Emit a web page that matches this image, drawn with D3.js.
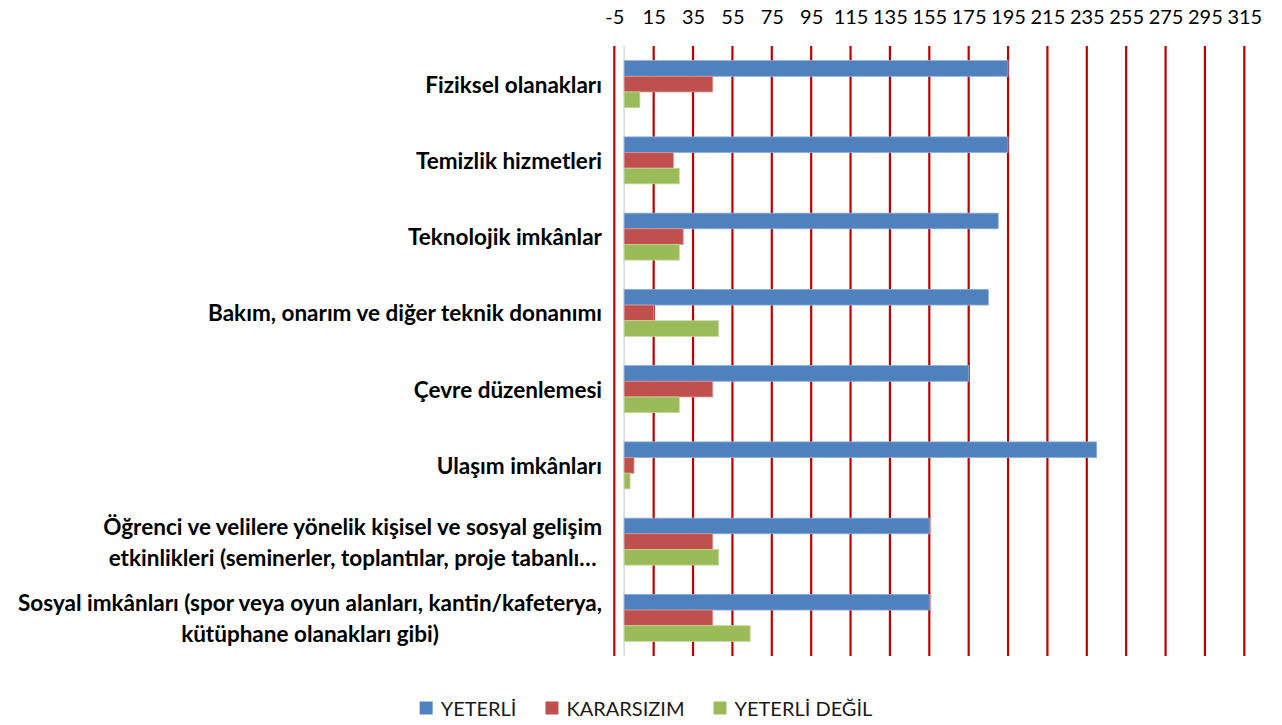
<!DOCTYPE html>
<html><head><meta charset="utf-8">
<script src="https://cdn.jsdelivr.net/npm/d3@7"></script>
<style>body{margin:0;background:#fff}svg{display:block}</style>
</head><body>
<svg id="chart" width="1282" height="725"></svg>
<script>
const categories = [
  "Fiziksel olanakları",
  "Temizlik hizmetleri",
  "Teknolojik imkânlar",
  "Bakım, onarım ve diğer teknik donanımı",
  "Çevre düzenlemesi",
  "Ulaşım imkânları",
  "Öğrenci ve velilere yönelik kişisel ve sosyal gelişim\netkinlikleri (seminerler, toplantılar, proje tabanlı…",
  "Sosyal imkânları (spor veya oyun alanları, kantin/kafeterya,\nkütüphane olanakları gibi)"
];
const seriesNames = ["YETERLİ", "KARARSIZIM", "YETERLİ DEĞİL"];
const yeterli      = [195, 195, 190, 185, 175, 240, 155, 155];
const kararsizim   = [45, 25, 30, 15, 45, 5, 45, 45];
const yeterliDegil = [8, 28, 28, 48, 28, 3, 48, 64];
const tickValues = [-5, 15, 35, 55, 75, 95, 115, 135, 155, 175, 195, 215, 235, 255, 275, 295, 315];
const colors = ["#4F81BD", "#C0504D", "#9BBB59"];
const strokes = ["#8DAEDA", "#D99694", "#C3D69B"];

const seriesValues = [yeterli, kararsizim, yeterliDegil];
const FONT = "Lato, 'Open Sans', sans-serif";

const svg = d3.select("#chart");
const plot = {left: 614.3, right: 1244.3, top: 46, bottom: 656};

const x = d3.scaleLinear().domain([-5, 315]).range([plot.left, plot.right]);
const gapRatio = 0.384;
const y = d3.scaleBand().domain(categories).range([plot.top, plot.bottom])
  .paddingInner(gapRatio).paddingOuter(gapRatio / 2);
const ySub = d3.scaleBand().domain(seriesNames).range([0, y.bandwidth()]);

// gridlines
svg.append("g").selectAll("line").data(tickValues).join("line")
  .attr("x1", d => x(d)).attr("x2", d => x(d))
  .attr("y1", plot.top).attr("y2", plot.bottom)
  .attr("stroke", "#C00000").attr("stroke-width", 2.2);

// category axis line at 0
svg.append("line")
  .attr("x1", x(0)).attr("x2", x(0))
  .attr("y1", plot.top).attr("y2", plot.bottom)
  .attr("stroke", "#D9D9D9").attr("stroke-width", 1.5);

// top axis tick labels
const xAxis = d3.axisTop(x).tickValues(tickValues).tickSize(0).tickPadding(0)
  .tickFormat(d => String(d));
const axG = svg.append("g").attr("transform", "translate(0,24)").call(xAxis);
axG.select(".domain").remove();
axG.selectAll("text").attr("font-family", FONT).attr("font-size", 20)
  .attr("fill", "#000").attr("dy", 0);

// bars
categories.forEach((c, i) => {
  const g = svg.append("g").attr("transform", `translate(0,${y(c)})`);
  seriesNames.forEach((s, k) => {
    const v = seriesValues[k][i];
    g.append("rect")
      .attr("x", x(0))
      .attr("y", ySub(s))
      .attr("width", x(v) - x(0))
      .attr("height", ySub.bandwidth())
      .attr("fill", colors[k])
      .attr("stroke", strokes[k]).attr("stroke-width", 0.8);
  });
});

// category labels
const labelRight = 602;
const lineH = 31;
categories.forEach(c => {
  const lines = c.split("\n");
  const cy = y(c) + y.bandwidth() / 2;
  const t = svg.append("text")
    .attr("font-family", FONT).attr("font-size", 22.5).attr("font-weight", "bold")
    .attr("fill", "#000");
  const spans = lines.map((ln, j) => t.append("tspan").text(ln)
    .attr("y", cy + (j - (lines.length - 1) / 2) * lineH)
    .attr("dominant-baseline", "central"));
  const maxW = d3.max(spans, sp => sp.node().getComputedTextLength());
  const cx = labelRight - maxW / 2;
  spans.forEach(sp => sp.attr("x", cx).attr("text-anchor", "middle"));
});

// legend
const legend = svg.append("g");
let lx = 0;
seriesNames.forEach((s, k) => {
  const g = legend.append("g").attr("transform", `translate(${lx},0)`);
  g.append("rect").attr("x", 0).attr("y", -6.5).attr("width", 13).attr("height", 13)
    .attr("fill", colors[k]);
  const tx = g.append("text").attr("x", 21).attr("y", 0).attr("dominant-baseline", "central")
    .attr("font-family", FONT).attr("font-size", 20).attr("fill", "#1a1a1a").text(s);
  const w = tx.node().getComputedTextLength();
  lx += 21 + w + 29;
});
const legendW = lx - 29;
legend.attr("transform", `translate(${646 - legendW / 2},708)`);
</script>
</body></html>
